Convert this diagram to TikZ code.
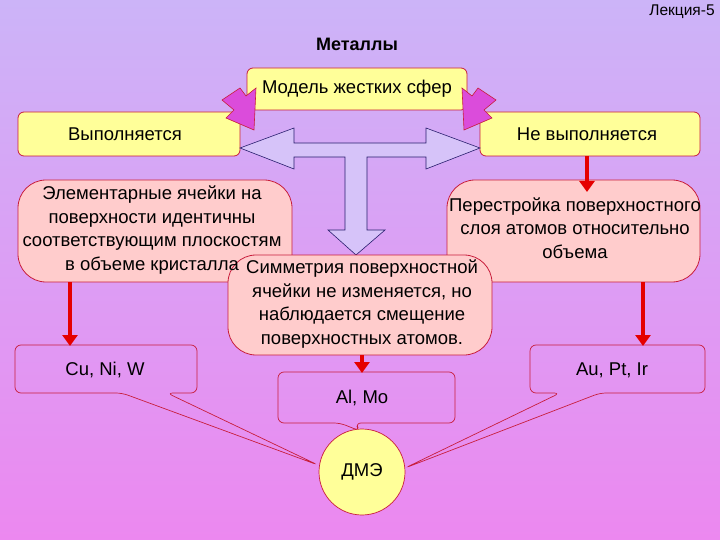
\documentclass[tikz,border=0pt]{standalone}
\usepackage{fontspec}
\setmainfont{Liberation Sans}
\usetikzlibrary{arrows.meta}
\definecolor{bgtop}{RGB}{204,180,248}
\definecolor{bgbot}{RGB}{236,136,240}
\definecolor{yel}{RGB}{255,255,153}
\definecolor{pinkbox}{RGB}{255,204,204}
\definecolor{redl}{RGB}{200,30,60}
\definecolor{navy}{RGB}{40,30,110}
\tikzset{
  txt/.style={font=\fontsize{18.5}{23.5}\selectfont, align=center, inner sep=0pt},
  ybox/.style={draw=redl, fill=yel, rounded corners=6pt, line width=0.8pt},
  pbox/.style={draw=redl, fill=pinkbox, rounded corners=28pt, line width=0.8pt},
  call/.style={draw=redl, line width=0.7pt, rounded corners=6pt},
  redarr/.style={draw=red!90!black, line width=3.5pt, -{Triangle[length=11pt,width=15pt]}},
  pinkarr/.style={fill=violet!40!magenta!70, draw=redl, line width=0.6pt}
}
\begin{document}
\begin{tikzpicture}[x=1pt,y=-1pt]
\shade[top color=bgtop,bottom color=bgbot] (0,0) rectangle (720,540);
\useasboundingbox (0,0) rectangle (720,540);
\node[font=\fontsize{15.5}{17}\selectfont] (lec) at (682,12) {Лекция-5};
\node[font=\bfseries\fontsize{18}{20}\selectfont] (title) at (357,44) {Металлы};
% top boxes
\draw[ybox] (247,68) rectangle (467,110);
\node[txt] (top) at (357,89) {Модель жестких сфер};
\draw[ybox] (18,112) rectangle (240,156);
\node[txt] (yes) at (125,134) {Выполняется};
\draw[ybox] (480,112) rectangle (700,156);
\node[txt] (no) at (587,134) {Не выполняется};
% pink block arrows
\draw[pinkarr] (222,100) -- (240,88) -- (246,96) -- (256,88) -- (254,130) -- (226,118) -- (234,110) -- cycle;
\draw[pinkarr] (496,100) -- (478,88) -- (472,96) -- (462,88) -- (464,130) -- (492,118) -- (484,110) -- cycle;
% three-way arrow
\draw[navy, fill=bgtop!80!white, line width=0.6pt] (240,148) -- (294,128) -- (294,143) -- (426,143) -- (426,128) -- (480,148) -- (426,169) -- (426,157)
  -- (367,157) -- (367,230) -- (385,230) -- (356,255) -- (328,230) -- (345,230) -- (345,157) -- (294,157) -- (294,169) -- cycle;
% rounded pink boxes
\draw[pbox] (18,180) rectangle (292,282);
\draw[pbox] (447,180) rectangle (700,282);
\node[txt] (restr) at (575,228) {Перестройка поверхностного\\слоя атомов относительно\\объема};
\draw[pbox] (228,255) rectangle (492,355);
\node[txt] (sym) at (362,304) {Симметрия поверхностной\\ячейки не изменяется, но\\наблюдается смещение\\поверхностных атомов.};
\node[txt] (elem) at (152,230) {Элементарные ячейки на\\поверхности идентичны\\соответствующим плоскостям\\в объеме кристалла};
% callouts
\draw[call] (122,393) -- (318,465) -- (167,393) -- (197,393) -- (197,345) -- (15,345) -- (15,393) -- cycle;
\node[txt] (cu) at (105,370) {Cu, Ni, W};
\draw[call] (560,393) -- (405,468) -- (600,393) -- (705,393) -- (705,345) -- (530,345) -- (530,393) -- cycle;
\node[txt] (au) at (612,370) {Au, Pt, Ir};
\draw[call] (340,423) -- (360,431) -- (355,423) -- (455,423) -- (455,372) -- (278,372) -- (278,423) -- cycle;
\node[txt] (al) at (362,398) {Al, Mo};
\node[circle, draw=redl, fill=yel, minimum size=86pt, line width=0.7pt] (dme) at (362,472) {};
\node[txt] (dmet) at (dme) {ДМЭ};
% red arrows
\coordinate (a1) at (587,156); \coordinate (a1e) at (587,192);
\draw[redarr] (a1) -- (a1e);
\coordinate (b1) at (70,282); \coordinate (b1e) at (70,346);
\draw[redarr] (b1) -- (b1e);
\coordinate (c1) at (643,282); \coordinate (c1e) at (643,346);
\draw[redarr] (c1) -- (c1e);
\coordinate (d1) at (362,355); \coordinate (d1e) at (362,373);
\draw[redarr] (d1) -- (d1e);
\end{tikzpicture}
\end{document}
